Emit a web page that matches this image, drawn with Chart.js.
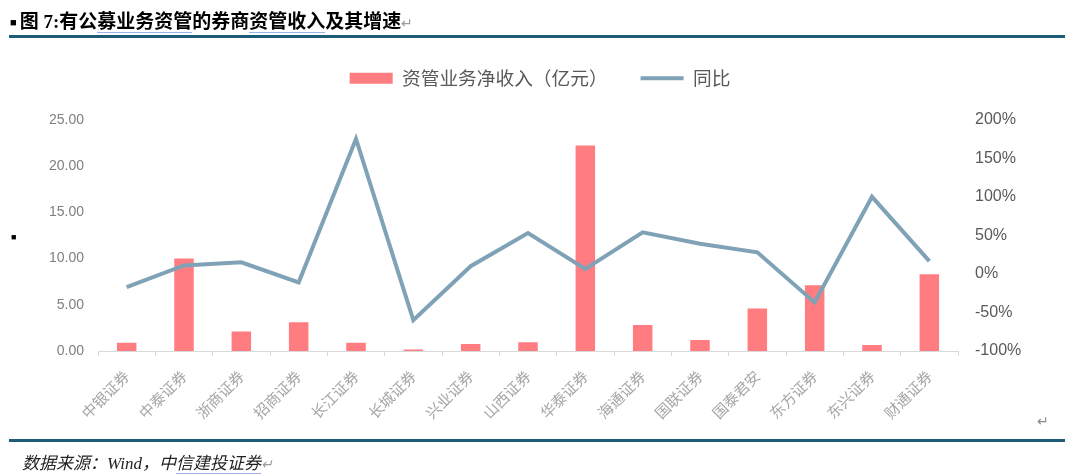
<!DOCTYPE html>
<html>
<head>
<meta charset="utf-8">
<script src="https://cdn.jsdelivr.net/npm/chart.js@4/dist/chart.umd.min.js"></script>
<style>
  html, body { margin: 0; padding: 0; background: #fff; }
  #wrap { position: relative; width: 1080px; height: 476px; overflow: hidden; }
  #c { position: absolute; left: 0; top: 0; }
  .txt { position: absolute; white-space: nowrap; }
  #title { left: 10px; top: 6px; font: bold 19px "Liberation Serif", "Noto Sans CJK SC", serif; color: #000; }
  #title .sq { font-size: 11px; vertical-align: 2px; margin-right: 3px; }
  .ul { border-bottom: 1px solid #9cb2e6; }
  .ret { color: #9a9a9a; font-weight: normal; font-size: 14px; }
  .rule { position: absolute; left: 9px; width: 1056px; height: 3px; background: #1d5b76; }
  #src { left: 22px; top: 449px; font: italic 17px "Liberation Serif", "Noto Sans CJK SC", serif; color: #222; }
</style>
</head>
<body>
<div id="wrap">
  <canvas id="c" width="1080" height="476"></canvas>
  <div class="txt" id="title"><span class="sq">■</span>图 7:有公<span class="ul">募业务资管</span>的券商<span class="ul">资管收入</span>及其增速<span class="ret">↵</span></div>
  <div class="rule" style="top:35px"></div>
  <div class="txt" style="left:11px;top:232px;font-size:9px;">■</div>
  <div class="txt" style="left:1037px;top:410px;font:14px 'Noto Sans CJK SC';color:#8a8a8a;">↵</div>
  <div class="rule" style="top:439px"></div>
  <div class="txt" id="src">数据来源：Wind，中<span class="ul">信建投证券</span><span class="ret">↵</span></div>
</div>
<script>
var brokers = ['中银证券','中泰证券','浙商证券','招商证券','长江证券','长城证券','兴业证券','山西证券','华泰证券','海通证券','国联证券','国泰君安','东方证券','东兴证券','财通证券'];
// 资管业务净收入（亿元）
var income = [0.9, 10.0, 2.1, 3.1, 0.9, 0.15, 0.75, 0.95, 22.2, 2.8, 1.2, 4.6, 7.1, 0.65, 8.3];
// 同比（%）
var yoy = [-17, 11, 15, -11, 175, -60, 10, 53, 6.5, 54, 39, 28, -37, 100, 16.5];
var leftTicks = [0, 25, 5];
var rightTicks = [-100, 200, 50];

var barColor = '#ff7c80';
var lineColor = '#7fa2b6';

// push the plot area down below the legend
var legendGap = {
  id: 'legendGap',
  beforeLayout: function(chart) {
    var lg = chart.legend;
    if (!lg || lg._gapDone) return;
    var fit = lg.fit;
    lg.fit = function() { fit.call(this); this.height += 22; };
    lg._gapDone = true;
  }
};

var ctx = document.getElementById('c').getContext('2d');
var chart = new Chart(ctx, {
  data: {
    labels: brokers,
    datasets: [{
      type: 'bar',
      label: '资管业务净收入（亿元）',
      data: income,
      backgroundColor: barColor,
      borderWidth: 0,
      barPercentage: 0.34,
      categoryPercentage: 1,
      yAxisID: 'y',
      order: 1
    }, {
      type: 'line',
      label: '同比',
      data: yoy,
      borderColor: lineColor,
      backgroundColor: lineColor,
      borderWidth: 4,
      pointRadius: 0,
      tension: 0,
      yAxisID: 'y1',
      order: 0
    }]
  },
  options: {
    responsive: false,
    animation: false,
    layout: { padding: { top: 36, left: 0, right: 0, bottom: 0 } },
    plugins: {
      tooltip: { enabled: false },
      legend: {
        position: 'top',
        labels: {
          usePointStyle: true,
          pointStyleWidth: 43,
          boxHeight: 11,
          padding: 33,
          color: '#595959',
          font: { family: 'Noto Sans CJK SC', size: 18.7 },
          sort: function(a, b) { return a.datasetIndex - b.datasetIndex; },
          generateLabels: function(ch) {
            return ch.data.datasets.map(function(ds, i) {
              var isLine = ds.type === 'line';
              return {
                text: ds.label,
                datasetIndex: i,
                fillStyle: isLine ? ds.borderColor : ds.backgroundColor,
                strokeStyle: isLine ? ds.borderColor : ds.backgroundColor,
                lineWidth: isLine ? 4 : 0,
                pointStyle: isLine ? 'line' : 'rect',
                fontColor: '#595959',
                hidden: false
              };
            });
          }
        }
      }
    },
    scales: {
      x: {
        offset: true,
        grid: { display: true, offset: true, drawOnChartArea: false, drawTicks: true, tickLength: 5, color: '#d9d9d9' },
        border: { display: true, color: '#d9d9d9', width: 1 },
        ticks: {
          minRotation: 45, maxRotation: 45, autoSkip: false, padding: 11,
          color: '#a6a6a6',
          font: { family: 'Noto Sans CJK SC', size: 15 }
        },
        afterFit: function(s) { s.height = 125; }
      },
      y: {
        position: 'left',
        min: leftTicks[0], max: leftTicks[1],
        grid: { display: false, drawTicks: false },
        border: { display: false },
        ticks: {
          stepSize: leftTicks[2], padding: 14, color: '#7f7f7f',
          font: { family: 'Liberation Sans', size: 14 },
          callback: function(v) { return Number(v).toFixed(2); }
        },
        afterFit: function(s) { s.width = 98; }
      },
      y1: {
        position: 'right',
        min: rightTicks[0], max: rightTicks[1],
        grid: { display: false, drawTicks: false },
        border: { display: false },
        ticks: {
          stepSize: rightTicks[2], padding: 17, color: '#595959',
          font: { family: 'Liberation Sans', size: 16 },
          callback: function(v) { return v + '%'; }
        },
        afterFit: function(s) { s.width = 122; }
      }
    }
  },
  plugins: [legendGap]
});
</script>
</body>
</html>
